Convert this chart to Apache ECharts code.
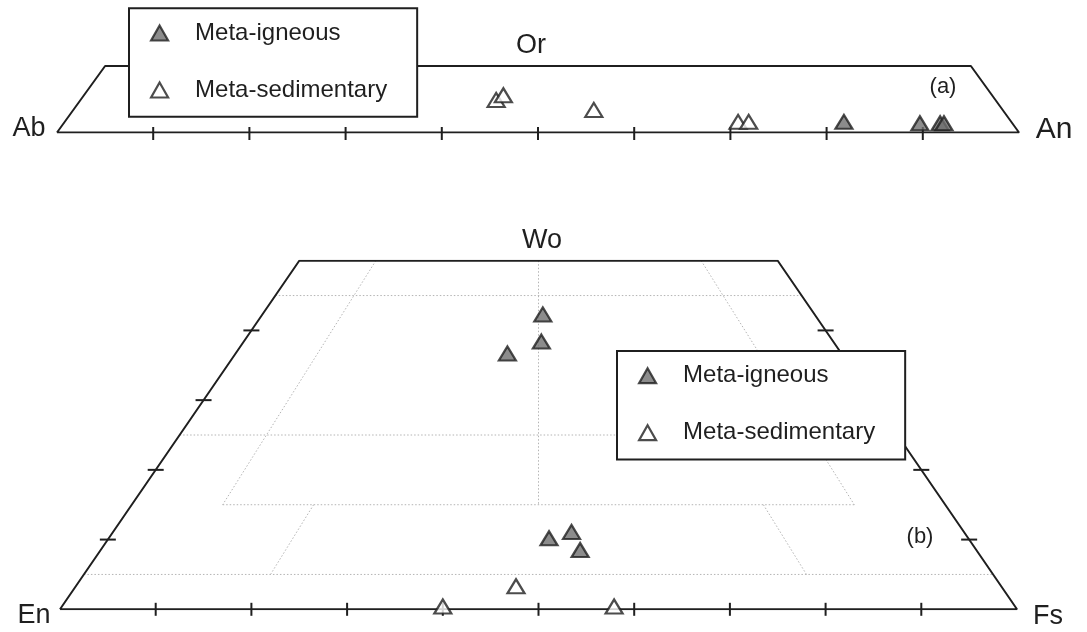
<!DOCTYPE html>
<html>
<head>
<meta charset="utf-8">
<script src="https://cdn.jsdelivr.net/npm/echarts@6/dist/echarts.min.js"></script>
<style>
html,body{margin:0;padding:0;background:#fff;}
#chart{width:1087px;height:632px;}
</style>
</head>
<body>
<div id="chart"></div>
<script>
// ---------------- data ----------------
const seriesNames = ['Meta-igneous', 'Meta-sedimentary'];

// (a) feldspar Ab–An–Or : points as [An, Or] mol% (Ab = remainder)
const fspApices = ['Ab', 'An', 'Or'];
const fspOrMax = 10;
const fspIgneous = [[81.0, 1.6], [89.0, 1.4], [91.1, 1.4], [91.5, 1.4]];
const fspSedimentary = [[43.2, 4.9], [43.6, 5.6], [54.1, 3.4], [70.0, 1.6], [71.1, 1.6]];
const fspBaseTicks = [10, 20, 30, 40, 50, 60, 70, 80, 90];

// (b) pyroxene En–Fs–Wo : points as [Wo, Fs] mol% (En = remainder)
const pxApices = ['En', 'Fs', 'Wo'];
const pxWoMax = 50;
const pxIgneous = [[42.3, 29.3], [38.4, 31.1], [36.7, 28.4], [11.1, 47.9], [10.2, 46.0], [8.5, 50.1]];
const pxSedimentary = [[3.3, 46.0], [0.4, 39.8], [0.4, 57.7]];
const pxBaseTicks = [10, 20, 30, 40, 50, 60, 70, 80, 90];
const pxSideTicks = [10, 20, 30, 40];
// field boundary segments, each [[Wo, Fs], [Wo, Fs]]
const pxFieldLines = [
  [[45, 0], [45, 55]],
  [[25, 0], [25, 75]],
  [[15, 9.5], [15, 75.5]],
  [[5, 0], [5, 95]],
  [[50, 25], [15, 42.5]],
  [[50, 8], [15, 9.5]],
  [[50, 42], [15, 75.5]],
  [[15, 19], [5, 19.5]],
  [[15, 66], [5, 75.5]]
];

// ---------------- helpers ----------------
const fspXY = d => [d[0] + d[1] / 2, d[1]];        // [An, Or] -> cartesian
const pxXY = d => [d[1] + d[0] / 2, d[0]];         // [Wo, Fs] -> cartesian

const INK = '#1f1f1f';
const GREY = '#6f6f6f';
const FONT = '"Liberation Sans", Arial, sans-serif';

const fspOutline = [[0, 0], [100, 0], [100 - fspOrMax, fspOrMax], [0, fspOrMax], [0, 0]].map(fspXY);
const pxOutline = [[0, 0], [0, 100], [pxWoMax, 100 - pxWoMax], [pxWoMax, 0], [0, 0]].map(pxXY);

const fspTickData = fspBaseTicks.map(t => [t, 0, 0]);
const pxTickData = pxBaseTicks.map(t => [t, 0, 1])
  .concat(pxSideTicks.map(w => pxXY([w, 0]).concat([2])))
  .concat(pxSideTicks.map(w => pxXY([w, 100 - w]).concat([2])));

function tickRender(params, api) {
  const p = api.coord([api.value(0), api.value(1)]);
  const k = api.value(2);
  let shape;
  if (k === 0) shape = {x1: p[0], y1: p[1] - 5.5, x2: p[0], y2: p[1] + 7.5};
  else if (k === 1) shape = {x1: p[0], y1: p[1] - 6.5, x2: p[0], y2: p[1] + 6.5};
  else shape = {x1: p[0] - 8, y1: p[1], x2: p[0] + 8, y2: p[1]};
  return {type: 'line', shape: shape, style: {stroke: INK, lineWidth: 2}};
}

const markerStyle = [
  {color: GREY, borderColor: INK, borderWidth: 2.2},
  {color: '#ffffff', borderColor: INK, borderWidth: 2.2}
];

function scatter(name, idx, data, conv, style) {
  return {
    type: 'scatter', name: name, xAxisIndex: idx, yAxisIndex: idx,
    data: data.map(conv), symbol: 'triangle', symbolSize: [17, 14],
    itemStyle: style, clip: false, silent: true, z: 5,
    emphasis: {disabled: true}
  };
}

const series = [];
pxFieldLines.forEach(seg => {
  series.push({
    type: 'line', xAxisIndex: 1, yAxisIndex: 1, data: seg.map(pxXY),
    symbol: 'none', silent: true, z: 1,
    lineStyle: {type: [1.5, 2], color: '#b4b4b4', width: 1}
  });
});
series.push({
  type: 'line', xAxisIndex: 0, yAxisIndex: 0, data: fspOutline, symbol: 'none',
  silent: true, z: 2, lineStyle: {color: INK, width: 2}
});
series.push({
  type: 'line', xAxisIndex: 1, yAxisIndex: 1, data: pxOutline, symbol: 'none',
  silent: true, z: 2, lineStyle: {color: INK, width: 2}
});
series.push({type: 'custom', xAxisIndex: 0, yAxisIndex: 0, data: fspTickData,
  renderItem: tickRender, silent: true, z: 3, encode: {x: 0, y: 1}});
series.push({type: 'custom', xAxisIndex: 1, yAxisIndex: 1, data: pxTickData,
  renderItem: tickRender, silent: true, z: 3, encode: {x: 0, y: 1}});
series.push(scatter(seriesNames[0], 0, fspIgneous, fspXY, markerStyle[0]));
series.push(scatter(seriesNames[1], 0, fspSedimentary, fspXY, markerStyle[1]));
series.push(scatter(seriesNames[0], 1, pxIgneous, pxXY, markerStyle[0]));
series.push(scatter(seriesNames[1], 1, pxSedimentary, pxXY, markerStyle[1]));

function legendAt(left, top) {
  return {
    left: left, top: top, orient: 'vertical',
    data: seriesNames.map((n, i) => ({name: n, icon: 'triangle', itemStyle: markerStyle[i]})),
    itemWidth: 17, itemHeight: 15, itemGap: 33,
    padding: [12.7, 30, 14.7, 21],
    borderColor: INK, borderWidth: 2, backgroundColor: '#ffffff',
    selectedMode: false, z: 10,
    textStyle: {fontSize: 24, fontFamily: FONT, color: INK, padding: [0, 0, 0, 22]}
  };
}

function label(text, x, y, size) {
  return {
    type: 'text', x: x, y: y, z: 20, silent: true,
    style: {text: text, fontSize: size, fontFamily: FONT, fill: INK,
      align: 'center', verticalAlign: 'middle'}
  };
}

const option = {
  backgroundColor: '#ffffff',
  animation: false,
  grid: [
    {left: 57, top: 66, width: 962, height: 66.5},
    {left: 60, top: 260.7, width: 957, height: 348.6}
  ],
  xAxis: [
    {gridIndex: 0, type: 'value', min: 0, max: 100, show: false},
    {gridIndex: 1, type: 'value', min: 0, max: 100, show: false}
  ],
  yAxis: [
    {gridIndex: 0, type: 'value', min: 0, max: fspOrMax, show: false},
    {gridIndex: 1, type: 'value', min: 0, max: pxWoMax, show: false}
  ],
  legend: [legendAt(129, 8.3), legendAt(617, 351)],
  graphic: [
    label(fspApices[0], 29, 129, 27),
    label(fspApices[1], 1054, 130, 30),
    label(fspApices[2], 531, 46, 27),
    label('(a)', 943, 87, 22),
    label(pxApices[0], 34, 616, 27),
    label(pxApices[1], 1048, 617, 27),
    label(pxApices[2], 542, 241, 27),
    label('(b)', 920, 537, 22)
  ],
  series: series
};

const chart = echarts.init(document.getElementById('chart'), null, {renderer: 'canvas'});
chart.setOption(option);
</script>
</body>
</html>
